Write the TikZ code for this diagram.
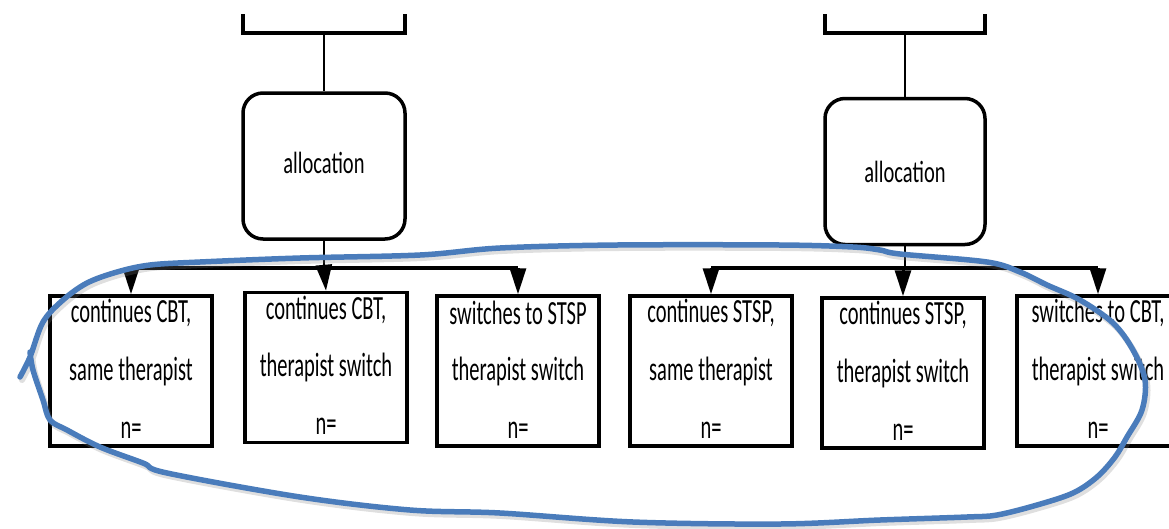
\documentclass[tikz,border=0pt]{standalone}
\usepackage{fontspec}
\setmainfont{Carlito}
\usetikzlibrary{arrows.meta}
\definecolor{markblue}{RGB}{74,124,187}
\newcommand\tall[1]{\scalebox{1}[1.65]{#1}}
\tikzset{
  cell/.style={draw, line width=3.5pt, minimum width=162pt, minimum height=150pt, inner sep=0pt},
  alloc/.style={draw, line width=3.5pt, rounded corners=20pt, minimum width=162pt, minimum height=146pt, inner sep=0pt},
  lbl/.style={inner sep=0pt, font=\fontsize{20.5}{24}\selectfont},
  link/.style={line width=2.5pt},
  bar/.style={line width=3.5pt},
  drop/.style={line width=3pt, -{Triangle[length=26pt,width=16pt]}},
  pen/.style={markblue, line width=5.5pt, line cap=round, line join=round},
}
\newcommand\cellbox[6]{%
  \node[cell] (#1) at (#2,#3) {};
  \node[lbl] (#1-a) at (#2,#3-58) {\tall{#4}};
  \node[lbl] (#1-b) at (#2,#3) {\tall{#5}};
  \node[lbl] (#1-n) at (#2,#3+59) {\tall{#6}};
}
\begin{document}
\begin{tikzpicture}[x=1pt,y=-1pt]
\useasboundingbox (0,0) rectangle (1169,528);
\clip (0,0) rectangle (1169,528);

% upper boxes, cut off at the top edge
\draw[line width=3.5pt] (243,14) -- (243,33) -- (405,33) -- (405,14);
\coordinate (topL) at (324,33);
\draw[line width=3.5pt] (825,14) -- (825,33) -- (985,33) -- (985,14);
\coordinate (topR) at (905,33);

% allocation boxes
\node[alloc] (allocL) at (324,166) {};
\node[lbl] (allocLt) at (324,163) {\scalebox{1}[1.5]{allocation}};
\node[alloc, minimum width=160pt] (allocR) at (905,171.5) {};
\node[lbl] (allocRt) at (905,172) {\scalebox{1}[1.5]{allocation}};

\draw[link] (topL) -- (allocL.north);
\draw[link] (topR) -- (allocR.north);

% outcome boxes
\cellbox{c1}{131}{371}{continues CBT,}{same therapist}{n=}
\cellbox{c2}{326}{367.5}{continues CBT,}{therapist switch}{n=}
\cellbox{c3}{518}{371}{switches to STSP}{therapist switch}{n=}
\cellbox{c4}{711}{371}{continues STSP,}{same therapist}{n=}
\cellbox{c5}{903}{373}{continues STSP,}{therapist switch}{n=}
\cellbox{c6}{1098}{371}{switches to CBT,}{therapist switch}{n=}

% branching connectors
\coordinate (jL) at (allocL.south |- 0,268);
\coordinate (jR) at (allocR.south |- 0,268);
\draw[link] (allocL.south) -- (jL);
\draw[link] (allocR.south) -- (jR);
\draw[bar] (c1.north |- jL) -- (c3.north |- jL);
\draw[bar] (c4.north |- jR) -- (c6.north |- jR);
\draw[drop] (c1.north |- jL) -- (c1.north);
\draw[drop] (jL) -- (c2.north);
\draw[drop] (c3.north |- jL) -- (c3.north);
\draw[drop] (c4.north |- jR) -- (c4.north);
\draw[drop] (c5.north |- jR) -- (c5.north);
\draw[drop] (c6.north |- jR) -- (c6.north);

% hand-drawn loop round the outcome boxes
\def\looppath{plot[smooth, tension=0.55] coordinates {
  (20,377) (30,357) (43,322) (63,300) (87,283) (117,272) (150,265) (200,262)
  (300,258) (420,255) (500,248) (617,245) (780,245) (853,247) (880,250)
  (900,254) (987,262) (1020,272) (1047,285) (1080,300) (1113,323) (1133,350)
  (1145,380) (1142,410) (1127,437) (1115,457) (1097,477) (1073,493) (1037,505)
  (997,515) (967,517) (880,520) (780,524) (633,522) (500,513) (410,510)
  (300,497) (167,473) (143,463) (100,447) (67,430) (50,420) (43,400) (33,370)
  (30,352)}}
\draw[pen, gray, opacity=0.25, line width=6pt, shift={(2,3)}] \looppath;
\draw[pen] \looppath;
\end{tikzpicture}
\end{document}
